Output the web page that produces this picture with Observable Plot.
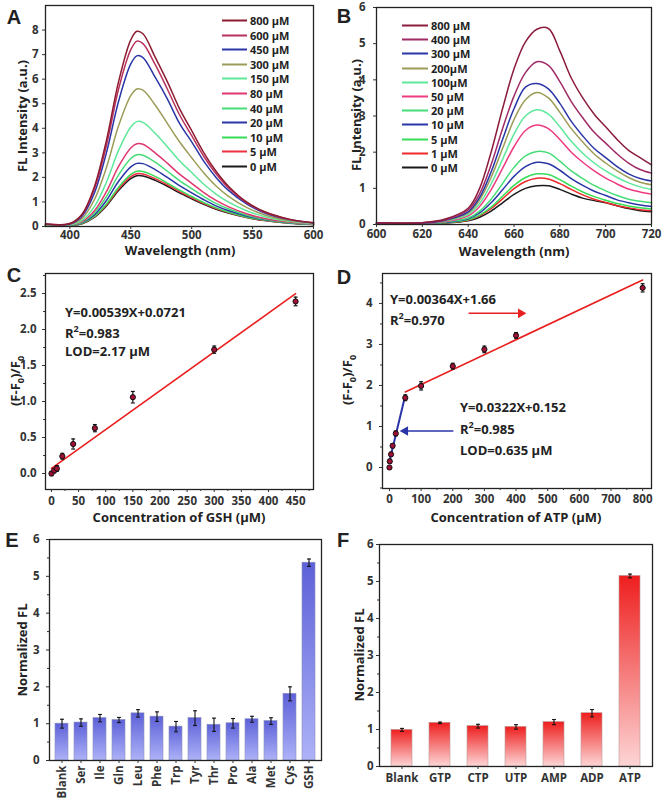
<!DOCTYPE html>
<html><head><meta charset="utf-8">
<script src="https://cdn.jsdelivr.net/npm/d3@7"></script>
<script src="https://cdn.jsdelivr.net/npm/@observablehq/plot@0.6"></script>
<style>
body{margin:0;background:#fff;}
#fig{position:relative;width:663px;height:799px;overflow:hidden;font-family:"Open Sans",sans-serif;font-weight:700;color:#222;}
#fig svg{position:absolute;font-family:"Open Sans",sans-serif !important;font-size:11.5px !important;font-weight:700;color:#333;background:transparent !important;overflow:visible;}
.t{position:absolute;white-space:nowrap;line-height:1;}
.lg{position:absolute;white-space:nowrap;line-height:1;font-size:11px;transform:translateY(-50%);}
.lt{position:absolute;font-family:"Liberation Sans",Arial,sans-serif;font-weight:700;font-size:20px;line-height:1;transform:translate(-50%,-50%);}
sub,sup{font-size:70%;}
</style></head><body><div id="fig"></div>
<script>
// ---------- Panel A data ----------
const aWavelength = [380,400,410,420,430,440,450,455,460,470,480,490,500,510,520,530,545,560,580,600];
const aConc = ["800 μM","600 μM","450 μM","300 μM","150 μM","80 μM","40 μM","20 μM","10 μM","5 μM","0 μM"];
const aIntensity = [
 [0.10,0.12,0.50,1.60,3.50,5.90,7.60,7.95,7.85,6.90,5.90,4.80,3.90,3.00,2.25,1.65,1.00,0.60,0.30,0.15],
 [0.10,0.12,0.48,1.52,3.30,5.60,7.20,7.55,7.45,6.60,5.60,4.55,3.70,2.85,2.15,1.58,0.97,0.58,0.29,0.15],
 [0.09,0.10,0.42,1.35,3.00,5.10,6.62,6.95,6.88,6.08,5.20,4.20,3.45,2.65,2.00,1.48,0.92,0.55,0.28,0.14],
 [0.08,0.09,0.33,1.08,2.40,4.10,5.33,5.60,5.55,4.95,4.20,3.45,2.80,2.18,1.65,1.24,0.78,0.47,0.24,0.13],
 [0.06,0.07,0.25,0.80,1.80,3.10,4.05,4.27,4.24,3.80,3.25,2.68,2.20,1.72,1.32,1.00,0.64,0.40,0.21,0.11],
 [0.05,0.06,0.20,0.63,1.42,2.45,3.20,3.37,3.35,3.00,2.58,2.13,1.76,1.38,1.06,0.81,0.52,0.33,0.18,0.10],
 [0.05,0.05,0.17,0.54,1.22,2.10,2.77,2.92,2.90,2.62,2.25,1.87,1.54,1.22,0.94,0.72,0.47,0.30,0.16,0.09],
 [0.04,0.05,0.15,0.47,1.06,1.84,2.43,2.57,2.56,2.32,2.00,1.66,1.37,1.09,0.84,0.65,0.43,0.28,0.15,0.09],
 [0.04,0.04,0.13,0.41,0.92,1.60,2.12,2.25,2.24,2.04,1.77,1.48,1.22,0.97,0.76,0.59,0.39,0.26,0.14,0.08],
 [0.04,0.04,0.12,0.39,0.88,1.53,2.03,2.15,2.14,1.95,1.70,1.42,1.17,0.93,0.73,0.57,0.38,0.25,0.14,0.08],
 [0.04,0.04,0.11,0.37,0.84,1.47,1.95,2.07,2.06,1.88,1.64,1.37,1.13,0.90,0.70,0.55,0.37,0.24,0.13,0.08]
];
const aXTicks = [400,450,500,550,600];
const aYTicks = [0,1,2,3,4,5,6,7,8];

// ---------- Panel B data ----------
const bWavelength = [600,620,630,640,645,650,655,660,665,670,675,680,685,690,695,700,705,710,715,720];
const bConc = ["800 μM","400 μM","300 μM","200μM","100μM","50 μM","20 μM","10 μM","5 μM","1 μM","0 μM"];
const bIntensity = [
 [0.05,0.05,0.15,0.45,1.00,2.00,3.20,4.30,5.05,5.40,5.42,4.80,4.05,3.50,3.05,2.70,2.35,2.05,1.85,1.65],
 [0.05,0.05,0.13,0.40,0.85,1.65,2.65,3.55,4.20,4.50,4.40,3.95,3.40,2.95,2.55,2.25,1.95,1.70,1.52,1.42],
 [0.04,0.04,0.12,0.35,0.75,1.45,2.35,3.20,3.80,3.90,3.75,3.35,2.85,2.45,2.10,1.85,1.60,1.40,1.27,1.20],
 [0.04,0.04,0.11,0.32,0.68,1.30,2.10,2.90,3.45,3.65,3.50,3.10,2.65,2.28,1.95,1.70,1.48,1.30,1.17,1.10],
 [0.04,0.04,0.10,0.28,0.58,1.12,1.80,2.50,3.00,3.17,3.05,2.70,2.30,1.97,1.70,1.48,1.30,1.15,1.04,0.97],
 [0.03,0.03,0.08,0.24,0.50,0.96,1.55,2.15,2.60,2.75,2.65,2.35,2.00,1.72,1.48,1.28,1.12,0.98,0.90,0.84],
 [0.03,0.03,0.07,0.18,0.37,0.70,1.13,1.58,1.90,2.02,1.98,1.75,1.48,1.27,1.08,0.93,0.80,0.70,0.64,0.60],
 [0.03,0.03,0.06,0.16,0.32,0.60,0.96,1.33,1.60,1.72,1.68,1.50,1.27,1.08,0.92,0.80,0.68,0.60,0.54,0.50],
 [0.03,0.03,0.05,0.13,0.26,0.48,0.78,1.08,1.30,1.40,1.38,1.24,1.06,0.90,0.77,0.67,0.58,0.51,0.46,0.43],
 [0.03,0.03,0.05,0.12,0.24,0.44,0.71,0.99,1.19,1.28,1.26,1.13,0.97,0.82,0.70,0.61,0.52,0.46,0.41,0.38],
 [0.03,0.03,0.04,0.10,0.20,0.37,0.60,0.83,1.00,1.07,1.07,0.97,0.84,0.73,0.66,0.60,0.52,0.44,0.38,0.35]
];
const bXTicks = [600,620,640,660,680,700,720];
const bYTicks = [0,1,2,3,4,5,6];

// ---------- Panel C data ----------
const cConc = [0,5,10,20,40,80,150,300,450];
const cRatio = [0.00,0.04,0.07,0.24,0.41,0.63,1.06,1.72,2.39];
const cErr = [0.03,0.03,0.04,0.04,0.07,0.05,0.08,0.05,0.06];
const cFit = [0.00539, 0.0721];   // slope, intercept
const cFitRange = [0,450];
const cXTicks = [0,50,100,150,200,250,300,350,400,450];
const cYTicks = [0,0.5,1,1.5,2,2.5];

// ---------- Panel D data ----------
const dConc = [0,1,5,10,20,50,100,200,300,400,800];
const dRatio = [0.00,0.15,0.32,0.53,0.83,1.70,1.99,2.47,2.88,3.22,4.38];
const dErr = [0.03,0.05,0.05,0.05,0.06,0.07,0.10,0.07,0.08,0.07,0.10];
const dFitLow = [0.0322, 0.152];  const dLowRange = [0,50];
const dFitHigh = [0.00364, 1.66]; const dHighRange = [50,800];
const dArrowRed = [250,415,3.76];   // from x, to x, y
const dArrowBlue = [202,50,0.89];
const dXTicks = [0,100,200,300,400,500,600,700,800];
const dYTicks = [0,1,2,3,4];

// ---------- Panel E data ----------
const eNames = ["Blank","Ser","Ile","Gln","Leu","Phe","Trp","Tyr","Thr","Pro","Ala","Met","Cys","GSH"];
const eValues = [1.00,1.03,1.15,1.10,1.28,1.19,0.92,1.15,0.97,1.01,1.12,1.07,1.81,5.37];
const eErr = [0.12,0.10,0.10,0.07,0.10,0.13,0.14,0.20,0.18,0.13,0.08,0.09,0.19,0.10];

// ---------- Panel F data ----------
const fNames = ["Blank","GTP","CTP","UTP","AMP","ADP","ATP"];
const fValues = [0.99,1.18,1.09,1.07,1.20,1.44,5.15];
const fErr = [0.04,0.02,0.05,0.06,0.07,0.10,0.05];
const barYTicks = [0,1,2,3,4,5,6];

// ---------- styles ----------
const aColors = ["#8c1c30","#b8305c","#2b36a6","#9c9c58","#5ee89a","#e0386e","#45dd78","#2b36a6","#36dd58","#ee3040","#1a1a1a"];
const bColors = ["#8c1c3c","#a02a66","#2b36a6","#9c9c58","#5ee89a","#ee3a80","#45dd78","#2b36a6","#36dd58","#ee2a2a","#1a1a1a"];

const fig = document.getElementById("fig");
function place(svg, left, top){ svg.style.left = left+"px"; svg.style.top = top+"px"; fig.appendChild(svg); }
function txt(html, x, y, size, opts = {}){
  const d = document.createElement("div"); d.className = "t"; d.innerHTML = html;
  d.style.left = x+"px"; d.style.top = y+"px"; d.style.fontSize = size+"px";
  const tx = opts.start ? "0" : "-50%";
  d.style.transform = `translate(${tx},-50%)` + (opts.rotate ? " rotate(-90deg)" : "");
  fig.appendChild(d);
}
function letter(s, x, y){ const d = document.createElement("div"); d.className="lt"; d.textContent=s; d.style.left=x+"px"; d.style.top=y+"px"; fig.appendChild(d); }
function legend(labels, colors, left, top, step, sw){
  labels.forEach((lab,i)=>{
    const r = document.createElement("div"); r.className = "lg";
    r.style.left = left+"px"; r.style.top = (top + i*step)+"px";
    r.innerHTML = `<span style="display:inline-block;width:${sw}px;height:2px;background:${colors[i]};vertical-align:middle;margin-right:3px;position:relative;top:-1px"></span>${lab}`;
    fig.appendChild(r);
  });
}
function addGradient(svg, id, top, bottom){
  const defs = document.createElementNS("http://www.w3.org/2000/svg","defs");
  defs.innerHTML = `<linearGradient id="${id}" x1="0" y1="0" x2="0" y2="1"><stop offset="0" stop-color="${top}"/><stop offset="1" stop-color="${bottom}"/></linearGradient>`;
  svg.insertBefore(defs, svg.firstChild);
}
const capSymbol = { draw(ctx, size){ const w = Math.sqrt(size); ctx.moveTo(-w/2,0); ctx.lineTo(w/2,0); } };
const minor = (a,b,s) => d3.range(a, b+1e-9, s);
const fmtInt = d3.format("d");
const frame = Plot.frame({stroke:"#222", strokeWidth:1.3});
const st = {background:"transparent", overflow:"visible"};

// ---------- Panel A ----------
const aData = [];
for (let i = aConc.length-1; i >= 0; i--) aWavelength.forEach((w,j)=>aData.push({w, v:aIntensity[i][j], c:aConc[i]}));
const pA = Plot.plot({
  width:330, height:260, marginLeft:45, marginRight:17, marginTop:5, marginBottom:34, style:st,
  x:{domain:[380,600]}, y:{domain:[0,9]},
  color:{domain:aConc, range:aColors},
  marks:[
    Plot.line(aData, {x:"w", y:"v", z:"c", stroke:"c", strokeWidth:1.5, curve:"catmull-rom"}),
    frame,
    Plot.axisX({ticks:aXTicks, tickSize:3, tickPadding:1, tickFormat:fmtInt, label:null}),
    Plot.axisY({ticks:aYTicks, tickSize:3, tickPadding:4, tickFormat:fmtInt, label:null})
  ]
});
place(pA, 0, 0);

// ---------- Panel B ----------
const bData = [];
for (let i = bConc.length-1; i >= 0; i--) bWavelength.forEach((w,j)=>bData.push({w, v:bIntensity[i][j], c:bConc[i]}));
const pB = Plot.plot({
  width:333, height:260, marginLeft:46, marginRight:12, marginTop:7, marginBottom:36, style:st,
  x:{domain:[600,720]}, y:{domain:[0,6]},
  color:{domain:bConc, range:bColors},
  marks:[
    Plot.line(bData, {x:"w", y:"v", z:"c", stroke:"c", strokeWidth:1.5, curve:"catmull-rom"}),
    frame,
    Plot.axisX({ticks:bXTicks, tickSize:3, tickPadding:2, tickFormat:fmtInt, label:null}),
    Plot.axisY({ticks:bYTicks, tickSize:3, tickPadding:8, tickFormat:fmtInt, label:null})
  ]
});
place(pB, 330, 0);

// ---------- Panel C ----------
const cData = cConc.map((x,i)=>({x, y:cRatio[i], e:cErr[i]}));
const cLine = cFitRange.map(x=>({x, y:cFit[0]*x + cFit[1]}));
const pC = Plot.plot({
  width:330, height:262, marginLeft:45, marginRight:17, marginTop:13, marginBottom:33, style:st,
  x:{domain:[-11,483]}, y:{domain:[-0.222,2.778]},
  marks:[
    Plot.line(cLine, {x:"x", y:"y", stroke:"#e8201f", strokeWidth:1.6}),
    Plot.ruleX(cData, {x:"x", y1:d=>d.y-d.e, y2:d=>d.y+d.e, stroke:"#111", strokeWidth:1.2}),
    Plot.dot(cData, {x:"x", y:d=>d.y+d.e, symbol:capSymbol, r:2.2, stroke:"#111", strokeWidth:1.2}),
    Plot.dot(cData, {x:"x", y:d=>d.y-d.e, symbol:capSymbol, r:2.2, stroke:"#111", strokeWidth:1.2}),
    Plot.dot(cData, {x:"x", y:"y", r:2.6, fill:"#a01035", stroke:"#111", strokeWidth:1}),
    frame,
    Plot.axisX({ticks:cXTicks, tickSize:3, tickPadding:4, tickFormat:fmtInt, label:null}),
    Plot.axisX({ticks:minor(25,475,50), tickSize:2, tickFormat:()=>"", label:null}),
    Plot.axisY({ticks:cYTicks, tickSize:3, tickPadding:6, tickFormat:d3.format(".1f"), label:null}),
    Plot.axisY({ticks:minor(0.25,2.75,0.5), tickSize:2, tickFormat:()=>"", label:null})
  ]
});
place(pC, 0, 260);

// ---------- Panel D ----------
const dData = dConc.map((x,i)=>({x, y:dRatio[i], e:dErr[i]}));
const dLow = dLowRange.map(x=>({x, y:dFitLow[0]*x + dFitLow[1]}));
const dHigh = dHighRange.map(x=>({x, y:dFitHigh[0]*x + dFitHigh[1]}));
const pD = Plot.plot({
  width:333, height:262, marginLeft:52, marginRight:12, marginTop:13, marginBottom:34, style:st,
  x:{domain:[-22,828]}, y:{domain:[-0.512,4.73]},
  marks:[
    Plot.line(dHigh, {x:"x", y:"y", stroke:"#e8201f", strokeWidth:1.6}),
    Plot.line(dLow, {x:"x", y:"y", stroke:"#2a35a8", strokeWidth:2}),
    Plot.ruleX(dData, {x:"x", y1:d=>d.y-d.e, y2:d=>d.y+d.e, stroke:"#111", strokeWidth:1.2}),
    Plot.dot(dData, {x:"x", y:d=>d.y+d.e, symbol:capSymbol, r:2.2, stroke:"#111", strokeWidth:1.2}),
    Plot.dot(dData, {x:"x", y:d=>d.y-d.e, symbol:capSymbol, r:2.2, stroke:"#111", strokeWidth:1.2}),
    Plot.dot(dData, {x:"x", y:"y", r:2.6, fill:"#a01035", stroke:"#111", strokeWidth:1}),
    Plot.link([dArrowRed], {x1:d=>d[0], x2:d=>d[1], y1:d=>d[2], y2:d=>d[2], stroke:"#e8201f", strokeWidth:1.5}),
    Plot.dot([dArrowRed], {x:d=>d[1], y:d=>d[2], symbol:"triangle", r:3.6, rotate:90, fill:"#e8201f"}),
    Plot.link([dArrowBlue], {x1:d=>d[0], x2:d=>d[1], y1:d=>d[2], y2:d=>d[2], stroke:"#2a35a8", strokeWidth:1.5}),
    Plot.dot([dArrowBlue], {x:d=>d[1], y:d=>d[2], symbol:"triangle", r:3.6, rotate:-90, fill:"#2a35a8"}),
    frame,
    Plot.axisX({ticks:dXTicks, tickSize:3, tickPadding:3, tickFormat:fmtInt, label:null}),
    Plot.axisX({ticks:minor(50,750,100), tickSize:2, tickFormat:()=>"", label:null}),
    Plot.axisY({ticks:dYTicks, tickSize:3, tickPadding:7, tickFormat:fmtInt, label:null}),
    Plot.axisY({ticks:minor(-0.5,4.5,1), tickSize:2, tickFormat:()=>"", label:null})
  ]
});
place(pD, 330, 260);

// ---------- Panel E ----------
const eData = eNames.map((n,i)=>({n, v:eValues[i], e:eErr[i]}));
const pE = Plot.plot({
  width:330, height:279, marginLeft:49, marginRight:9, marginTop:19, marginBottom:39, style:st,
  x:{domain:eNames, paddingInner:0.33, paddingOuter:0.14}, y:{domain:[0,6]},
  marks:[
    Plot.barY(eData, {x:"n", y:"v", fill:"url(#gradE)", stroke:"#8c8fb8", strokeWidth:0.6}),
    Plot.ruleX(eData, {x:"n", y1:d=>d.v-d.e, y2:d=>d.v+d.e, stroke:"#111", strokeWidth:1.1}),
    Plot.dot(eData, {x:"n", y:d=>d.v+d.e, symbol:capSymbol, r:2.2, stroke:"#111", strokeWidth:1.1}),
    Plot.dot(eData, {x:"n", y:d=>d.v-d.e, symbol:capSymbol, r:2.2, stroke:"#111", strokeWidth:1.1}),
    frame,
    Plot.axisX({tickRotate:-90, tickSize:3, tickPadding:2, label:null}),
    Plot.axisY({ticks:barYTicks, tickSize:3, tickPadding:7, tickFormat:fmtInt, label:null}),
    Plot.axisY({ticks:minor(0.5,5.5,1), tickSize:2, tickFormat:()=>"", label:null})
  ]
});
addGradient(pE, "gradE", "#5d61d8", "#adb2f8");
place(pE, 0, 520);

// ---------- Panel F ----------
const fData = fNames.map((n,i)=>({n, v:fValues[i], e:fErr[i]}));
const pF = Plot.plot({
  width:333, height:279, marginLeft:49, marginRight:11, marginTop:24, marginBottom:33, style:st,
  x:{domain:fNames, paddingInner:0.44, paddingOuter:0.31}, y:{domain:[0,6]},
  marks:[
    Plot.barY(fData, {x:"n", y:"v", fill:"url(#gradF)", stroke:"#b89a9a", strokeWidth:0.6}),
    Plot.ruleX(fData, {x:"n", y1:d=>d.v-d.e, y2:d=>d.v+d.e, stroke:"#111", strokeWidth:1.1}),
    Plot.dot(fData, {x:"n", y:d=>d.v+d.e, symbol:capSymbol, r:2.2, stroke:"#111", strokeWidth:1.1}),
    Plot.dot(fData, {x:"n", y:d=>d.v-d.e, symbol:capSymbol, r:2.2, stroke:"#111", strokeWidth:1.1}),
    frame,
    Plot.axisX({tickSize:3, tickPadding:4, label:null}),
    Plot.axisY({ticks:barYTicks, tickSize:3, tickPadding:3, tickFormat:fmtInt, label:null}),
    Plot.axisY({ticks:minor(0.5,5.5,1), tickSize:2, tickFormat:()=>"", label:null})
  ]
});
addGradient(pF, "gradF", "#ee1e1e", "#fdd5d5");
place(pF, 330, 520);

// ---------- texts ----------
letter("A", 14, 17); letter("B", 344, 16); letter("C", 14, 275); letter("D", 344, 277); letter("E", 12, 540); letter("F", 343, 540);
txt("Wavelength (nm)", 180, 250, 13);
txt("FL Intensity (a.u.)", 22, 116, 13, {rotate:true});
txt("Wavelength (nm)", 514, 251, 13);
txt("FL Intensity (a.u.)", 356, 115, 13, {rotate:true});
txt("Concentration of GSH (μM)", 179, 517, 13);
txt("(F-F<sub>0</sub>)/F<sub>0</sub>", 17, 381, 13, {rotate:true});
txt("Concentration of ATP (μM)", 516, 517, 13);
txt("(F-F<sub>0</sub>)/F<sub>0</sub>", 349, 380, 13, {rotate:true});
txt("Normalized FL", 22, 650, 13, {rotate:true});
txt("Normalized FL", 359, 655, 13, {rotate:true});
txt("Y=0.00539X+0.0721", 65, 312, 13, {start:true});
txt("R<sup>2</sup>=0.983", 65, 332, 13, {start:true});
txt("LOD=2.17 μM", 65, 351, 13, {start:true});
txt("Y=0.00364X+1.66", 390, 299, 13, {start:true});
txt("R<sup>2</sup>=0.970", 390, 319, 13, {start:true});
txt("Y=0.0322X+0.152", 460, 407, 13, {start:true});
txt("R<sup>2</sup>=0.985", 460, 428, 13, {start:true});
txt("LOD=0.635 μM", 460, 450, 13, {start:true});
legend(aConc, aColors, 222, 20, 14.6, 25);
legend(bConc, bColors, 402, 25, 14.2, 26);
</script></body></html>
